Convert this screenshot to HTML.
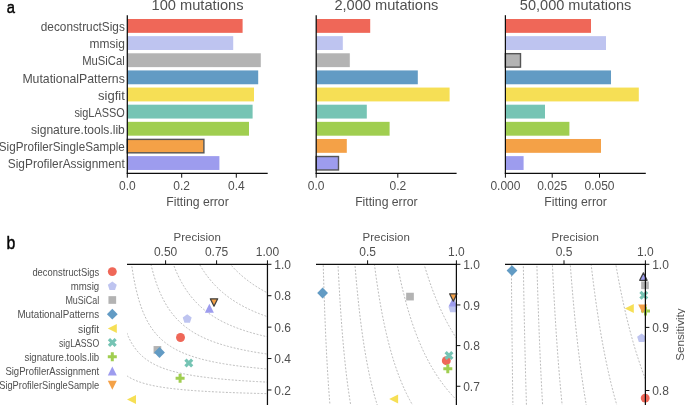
<!DOCTYPE html>
<html><head><meta charset="utf-8"><style>html,body{margin:0;padding:0;background:#fff;width:685px;height:405px;overflow:hidden}text{font-family:"Liberation Sans",sans-serif} svg{transform:translateZ(0) rotate(0.001deg)}</style></head>
<body><svg width="685" height="405" viewBox="0 0 685 405" style="display:block"><text x="0.00" y="0.00" font-size="16.8" fill="#000" stroke="#000" stroke-width="0.45" transform="translate(6.7,12.9) scale(0.88,1)">a</text>
<text x="0.00" y="0.00" font-size="18" fill="#000" stroke="#000" stroke-width="0.45" transform="translate(6.4,248.5) scale(0.88,1)">b</text>
<rect x="127.30" y="19.00" width="115.30" height="13.85" fill="#ef6758"/>
<rect x="127.30" y="36.14" width="105.90" height="13.85" fill="#bec4f0"/>
<rect x="127.30" y="53.28" width="133.50" height="13.85" fill="#b3b3b3"/>
<rect x="127.30" y="70.42" width="130.90" height="13.85" fill="#629bc4"/>
<rect x="127.30" y="87.56" width="126.70" height="13.85" fill="#f6df55"/>
<rect x="127.30" y="104.70" width="125.30" height="13.85" fill="#76c4b4"/>
<rect x="127.30" y="121.84" width="121.70" height="13.85" fill="#a0ce50"/>
<rect x="127.30" y="139.38" width="76.60" height="13.45" fill="#f4a147" stroke="#555555" stroke-width="1.4"/>
<rect x="127.30" y="156.12" width="92.10" height="13.85" fill="#9d9cee"/>
<line x1="127.30" y1="15.20" x2="127.30" y2="173.85" stroke="#0d0d0d" stroke-width="1.25"/>
<line x1="126.75" y1="173.30" x2="267.70" y2="173.30" stroke="#0d0d0d" stroke-width="1.25"/>
<line x1="127.30" y1="173.30" x2="127.30" y2="177.70" stroke="#0d0d0d" stroke-width="1.0"/>
<text x="127.30" y="190.20" font-size="12" fill="#4f4f4f" text-anchor="middle">0.0</text>
<line x1="181.70" y1="173.30" x2="181.70" y2="177.70" stroke="#0d0d0d" stroke-width="1.0"/>
<text x="181.70" y="190.20" font-size="12" fill="#4f4f4f" text-anchor="middle">0.2</text>
<line x1="236.30" y1="173.30" x2="236.30" y2="177.70" stroke="#0d0d0d" stroke-width="1.0"/>
<text x="236.30" y="190.20" font-size="12" fill="#4f4f4f" text-anchor="middle">0.4</text>
<text x="197.50" y="9.90" font-size="14.5" fill="#4f4f4f" text-anchor="middle" textLength="92" lengthAdjust="spacingAndGlyphs">100 mutations</text>
<text x="197.50" y="206.00" font-size="12.3" fill="#4f4f4f" text-anchor="middle" textLength="62.5" lengthAdjust="spacingAndGlyphs">Fitting error</text>
<rect x="316.20" y="19.00" width="54.00" height="13.85" fill="#ef6758"/>
<rect x="316.20" y="36.14" width="26.60" height="13.85" fill="#bec4f0"/>
<rect x="316.20" y="53.28" width="33.60" height="13.85" fill="#b3b3b3"/>
<rect x="316.20" y="70.42" width="101.60" height="13.85" fill="#629bc4"/>
<rect x="316.20" y="87.56" width="133.40" height="13.85" fill="#f6df55"/>
<rect x="316.20" y="104.70" width="50.60" height="13.85" fill="#76c4b4"/>
<rect x="316.20" y="121.84" width="73.40" height="13.85" fill="#a0ce50"/>
<rect x="316.20" y="138.98" width="30.60" height="13.85" fill="#f4a147"/>
<rect x="316.20" y="156.52" width="22.30" height="13.45" fill="#9d9cee" stroke="#555555" stroke-width="1.4"/>
<line x1="316.20" y1="15.20" x2="316.20" y2="173.85" stroke="#0d0d0d" stroke-width="1.25"/>
<line x1="315.65" y1="173.30" x2="456.60" y2="173.30" stroke="#0d0d0d" stroke-width="1.25"/>
<line x1="316.20" y1="173.30" x2="316.20" y2="177.70" stroke="#0d0d0d" stroke-width="1.0"/>
<text x="316.20" y="190.20" font-size="12" fill="#4f4f4f" text-anchor="middle">0.0</text>
<line x1="397.80" y1="173.30" x2="397.80" y2="177.70" stroke="#0d0d0d" stroke-width="1.0"/>
<text x="397.80" y="190.20" font-size="12" fill="#4f4f4f" text-anchor="middle">0.2</text>
<text x="386.40" y="9.90" font-size="14.5" fill="#4f4f4f" text-anchor="middle" textLength="104" lengthAdjust="spacingAndGlyphs">2,000 mutations</text>
<text x="386.40" y="206.00" font-size="12.3" fill="#4f4f4f" text-anchor="middle" textLength="62.5" lengthAdjust="spacingAndGlyphs">Fitting error</text>
<rect x="505.40" y="19.00" width="85.60" height="13.85" fill="#ef6758"/>
<rect x="505.40" y="36.14" width="100.60" height="13.85" fill="#bec4f0"/>
<rect x="505.40" y="53.68" width="15.10" height="13.45" fill="#b3b3b3" stroke="#555555" stroke-width="1.4"/>
<rect x="505.40" y="70.42" width="105.60" height="13.85" fill="#629bc4"/>
<rect x="505.40" y="87.56" width="133.40" height="13.85" fill="#f6df55"/>
<rect x="505.40" y="104.70" width="39.60" height="13.85" fill="#76c4b4"/>
<rect x="505.40" y="121.84" width="64.00" height="13.85" fill="#a0ce50"/>
<rect x="505.40" y="138.98" width="95.60" height="13.85" fill="#f4a147"/>
<rect x="505.40" y="156.12" width="18.20" height="13.85" fill="#9d9cee"/>
<line x1="505.40" y1="15.20" x2="505.40" y2="173.85" stroke="#0d0d0d" stroke-width="1.25"/>
<line x1="504.85" y1="173.30" x2="645.80" y2="173.30" stroke="#0d0d0d" stroke-width="1.25"/>
<line x1="505.40" y1="173.30" x2="505.40" y2="177.70" stroke="#0d0d0d" stroke-width="1.0"/>
<text x="505.40" y="190.20" font-size="12" fill="#4f4f4f" text-anchor="middle">0.000</text>
<line x1="552.20" y1="173.30" x2="552.20" y2="177.70" stroke="#0d0d0d" stroke-width="1.0"/>
<text x="552.20" y="190.20" font-size="12" fill="#4f4f4f" text-anchor="middle">0.025</text>
<line x1="599.50" y1="173.30" x2="599.50" y2="177.70" stroke="#0d0d0d" stroke-width="1.0"/>
<text x="599.50" y="190.20" font-size="12" fill="#4f4f4f" text-anchor="middle">0.050</text>
<text x="575.60" y="9.90" font-size="14.5" fill="#4f4f4f" text-anchor="middle" textLength="111.5" lengthAdjust="spacingAndGlyphs">50,000 mutations</text>
<text x="575.60" y="206.00" font-size="12.3" fill="#4f4f4f" text-anchor="middle" textLength="62.5" lengthAdjust="spacingAndGlyphs">Fitting error</text>
<text x="124.80" y="31.12" font-size="12.2" fill="#4f4f4f" text-anchor="end" textLength="84" lengthAdjust="spacingAndGlyphs">deconstructSigs</text>
<text x="124.80" y="48.27" font-size="12.2" fill="#4f4f4f" text-anchor="end" textLength="35.2" lengthAdjust="spacingAndGlyphs">mmsig</text>
<text x="124.80" y="65.41" font-size="12.2" fill="#4f4f4f" text-anchor="end" textLength="42.6" lengthAdjust="spacingAndGlyphs">MuSiCal</text>
<text x="124.80" y="82.55" font-size="12.2" fill="#4f4f4f" text-anchor="end" textLength="102.4" lengthAdjust="spacingAndGlyphs">MutationalPatterns</text>
<text x="124.80" y="99.69" font-size="12.2" fill="#4f4f4f" text-anchor="end" textLength="26.8" lengthAdjust="spacingAndGlyphs">sigfit</text>
<text x="124.80" y="116.83" font-size="12.2" fill="#4f4f4f" text-anchor="end" textLength="50.4" lengthAdjust="spacingAndGlyphs">sigLASSO</text>
<text x="124.80" y="133.97" font-size="12.2" fill="#4f4f4f" text-anchor="end" textLength="93.8" lengthAdjust="spacingAndGlyphs">signature.tools.lib</text>
<text x="124.80" y="151.11" font-size="12.2" fill="#4f4f4f" text-anchor="end" textLength="126" lengthAdjust="spacingAndGlyphs">SigProfilerSingleSample</text>
<text x="124.80" y="168.25" font-size="12.2" fill="#4f4f4f" text-anchor="end" textLength="117" lengthAdjust="spacingAndGlyphs">SigProfilerAssignment</text>
<circle cx="112.30" cy="271.60" r="4.46" fill="#ef6758"/>
<text x="99.20" y="275.70" font-size="10.1" fill="#4f4f4f" text-anchor="end" textLength="66.8" lengthAdjust="spacingAndGlyphs">deconstructSigs</text>
<polygon points="112.30,281.45 116.77,284.70 115.06,289.95 109.54,289.95 107.83,284.70" fill="#bec4f0"/>
<text x="99.20" y="289.90" font-size="10.1" fill="#4f4f4f" text-anchor="end" textLength="28.4" lengthAdjust="spacingAndGlyphs">mmsig</text>
<polygon points="108.45,296.15 116.15,296.15 116.15,303.85 108.45,303.85" fill="#b3b3b3"/>
<text x="99.20" y="304.10" font-size="10.1" fill="#4f4f4f" text-anchor="end" textLength="33.8" lengthAdjust="spacingAndGlyphs">MuSiCal</text>
<polygon points="112.30,308.80 117.70,314.20 112.30,319.60 106.90,314.20" fill="#629bc4"/>
<text x="99.20" y="318.30" font-size="10.1" fill="#4f4f4f" text-anchor="end" textLength="81.8" lengthAdjust="spacingAndGlyphs">MutationalPatterns</text>
<polygon points="107.80,328.40 116.80,323.90 116.80,332.90" fill="#f6df55"/>
<text x="99.20" y="332.50" font-size="10.1" fill="#4f4f4f" text-anchor="end" textLength="21.2" lengthAdjust="spacingAndGlyphs">sigfit</text>
<polygon points="110.05,338.10 112.30,340.35 114.55,338.10 116.80,340.35 114.55,342.60 116.80,344.85 114.55,347.10 112.30,344.85 110.05,347.10 107.80,344.85 110.05,342.60 107.80,340.35" fill="#76c4b4"/>
<text x="99.20" y="346.70" font-size="10.1" fill="#4f4f4f" text-anchor="end" textLength="40.2" lengthAdjust="spacingAndGlyphs">sigLASSO</text>
<polygon points="110.80,352.30 113.80,352.30 113.80,355.30 116.80,355.30 116.80,358.30 113.80,358.30 113.80,361.30 110.80,361.30 110.80,358.30 107.80,358.30 107.80,355.30 110.80,355.30" fill="#a0ce50"/>
<text x="99.20" y="360.90" font-size="10.1" fill="#4f4f4f" text-anchor="end" textLength="74.8" lengthAdjust="spacingAndGlyphs">signature.tools.lib</text>
<polygon points="112.30,366.50 116.80,375.50 107.80,375.50" fill="#9d9cee"/>
<text x="99.20" y="375.10" font-size="10.1" fill="#4f4f4f" text-anchor="end" textLength="93.8" lengthAdjust="spacingAndGlyphs">SigProfilerAssignment</text>
<polygon points="112.30,389.70 116.80,380.70 107.80,380.70" fill="#f4a147"/>
<text x="99.20" y="389.30" font-size="10.1" fill="#4f4f4f" text-anchor="end" textLength="100" lengthAdjust="spacingAndGlyphs">SigProfilerSingleSample</text>
<clipPath id="c0"><rect x="127.0" y="264.3" width="140.45" height="155.7"/></clipPath>
<g clip-path="url(#c0)" fill="none" stroke="#aaaaaa" stroke-width="0.8" stroke-dasharray="1.9 1.6">
<path d="M98.78,242.56 L99.93,273.50 L101.09,294.16 L102.24,308.94 L103.40,320.03 L104.55,328.65 L105.71,335.56 L106.86,341.21 L108.02,345.92 L109.17,349.91 L110.33,353.33 L111.48,356.29 L112.64,358.89 L113.80,361.18 L114.95,363.21 L116.11,365.03 L117.26,366.67 L118.42,368.15 L119.57,369.50 L120.73,370.73 L121.88,371.86 L123.04,372.90 L124.19,373.86 L125.35,374.74 L126.50,375.57 L127.66,376.34 L128.81,377.05 L129.97,377.72 L131.12,378.35 L132.28,378.94 L133.44,379.50 L134.59,380.02 L135.75,380.51 L136.90,380.98 L138.06,381.43 L139.21,381.85 L140.37,382.25 L141.52,382.63 L142.68,382.99 L143.83,383.33 L144.99,383.66 L146.14,383.98 L147.30,384.28 L148.45,384.57 L149.61,384.84 L150.76,385.11 L151.92,385.36 L153.08,385.61 L154.23,385.84 L155.39,386.07 L156.54,386.29 L157.70,386.50 L158.85,386.70 L160.01,386.89 L161.16,387.08 L162.32,387.26 L163.47,387.44 L164.63,387.61 L165.78,387.78 L166.94,387.94 L168.09,388.09 L169.25,388.24 L170.41,388.39 L171.56,388.53 L172.72,388.66 L173.87,388.80 L175.03,388.93 L176.18,389.05 L177.34,389.17 L178.49,389.29 L179.65,389.41 L180.80,389.52 L181.96,389.63 L183.11,389.73 L184.27,389.84 L185.42,389.94 L186.58,390.04 L187.73,390.13 L188.89,390.23 L190.05,390.32 L191.20,390.41 L192.36,390.50 L193.51,390.58 L194.67,390.67 L195.82,390.75 L196.98,390.83 L198.13,390.90 L199.29,390.98 L200.44,391.06 L201.60,391.13 L202.75,391.20 L203.91,391.27 L205.06,391.34 L206.22,391.40 L207.37,391.47 L208.53,391.53 L209.69,391.60 L210.84,391.66 L212.00,391.72 L213.15,391.78 L214.31,391.84 L215.46,391.89 L216.62,391.95 L217.77,392.01 L218.93,392.06 L220.08,392.11 L221.24,392.16 L222.39,392.22 L223.55,392.27 L224.70,392.32 L225.86,392.36 L227.01,392.41 L228.17,392.46 L229.33,392.50 L230.48,392.55 L231.64,392.59 L232.79,392.64 L233.95,392.68 L235.10,392.72 L236.26,392.76 L237.41,392.80 L238.57,392.84 L239.72,392.88 L240.88,392.92 L242.03,392.96 L243.19,393.00 L244.34,393.04 L245.50,393.07 L246.65,393.11 L247.81,393.14 L248.97,393.18 L250.12,393.21 L251.28,393.25 L252.43,393.28 L253.59,393.31 L254.74,393.35 L255.90,393.38 L257.05,393.41 L258.21,393.44 L259.36,393.47 L260.52,393.50 L261.67,393.53 L262.83,393.56 L263.98,393.59 L265.14,393.62 L266.29,393.65 L267.45,393.68"/>
<path d="M113.05,243.02 L114.14,259.32 L115.22,272.36 L116.31,283.04 L117.40,291.93 L118.49,299.46 L119.57,305.92 L120.66,311.52 L121.75,316.42 L122.84,320.74 L123.92,324.58 L125.01,328.02 L126.10,331.12 L127.18,333.92 L128.27,336.46 L129.36,338.79 L130.45,340.92 L131.53,342.88 L132.62,344.69 L133.71,346.37 L134.80,347.92 L135.88,349.37 L136.97,350.72 L138.06,351.99 L139.14,353.18 L140.23,354.29 L141.32,355.34 L142.41,356.33 L143.49,357.26 L144.58,358.15 L145.67,358.98 L146.76,359.78 L147.84,360.53 L148.93,361.25 L150.02,361.94 L151.11,362.59 L152.19,363.21 L153.28,363.80 L154.37,364.37 L155.45,364.92 L156.54,365.44 L157.63,365.94 L158.72,366.42 L159.80,366.88 L160.89,367.33 L161.98,367.75 L163.07,368.17 L164.15,368.56 L165.24,368.94 L166.33,369.31 L167.42,369.67 L168.50,370.01 L169.59,370.35 L170.68,370.67 L171.76,370.98 L172.85,371.28 L173.94,371.57 L175.03,371.86 L176.11,372.13 L177.20,372.40 L178.29,372.66 L179.38,372.91 L180.46,373.15 L181.55,373.39 L182.64,373.62 L183.73,373.84 L184.81,374.06 L185.90,374.27 L186.99,374.48 L188.07,374.68 L189.16,374.88 L190.25,375.07 L191.34,375.25 L192.42,375.44 L193.51,375.61 L194.60,375.79 L195.69,375.95 L196.77,376.12 L197.86,376.28 L198.95,376.44 L200.04,376.59 L201.12,376.74 L202.21,376.89 L203.30,377.03 L204.38,377.17 L205.47,377.31 L206.56,377.45 L207.65,377.58 L208.73,377.71 L209.82,377.83 L210.91,377.96 L212.00,378.08 L213.08,378.20 L214.17,378.31 L215.26,378.43 L216.35,378.54 L217.43,378.65 L218.52,378.76 L219.61,378.87 L220.69,378.97 L221.78,379.07 L222.87,379.17 L223.96,379.27 L225.04,379.37 L226.13,379.46 L227.22,379.55 L228.31,379.64 L229.39,379.73 L230.48,379.82 L231.57,379.91 L232.66,380.00 L233.74,380.08 L234.83,380.16 L235.92,380.24 L237.00,380.32 L238.09,380.40 L239.18,380.48 L240.27,380.55 L241.35,380.63 L242.44,380.70 L243.53,380.78 L244.62,380.85 L245.70,380.92 L246.79,380.99 L247.88,381.05 L248.97,381.12 L250.05,381.19 L251.14,381.25 L252.23,381.32 L253.31,381.38 L254.40,381.44 L255.49,381.50 L256.58,381.56 L257.66,381.62 L258.75,381.68 L259.84,381.74 L260.93,381.80 L262.01,381.85 L263.10,381.91 L264.19,381.96 L265.28,382.02 L266.36,382.07 L267.45,382.12"/>
<path d="M128.82,242.04 L129.84,251.37 L130.86,259.53 L131.87,266.73 L132.89,273.13 L133.91,278.86 L134.93,284.02 L135.95,288.69 L136.97,292.93 L137.99,296.81 L139.01,300.36 L140.03,303.63 L141.05,306.64 L142.07,309.44 L143.09,312.03 L144.11,314.45 L145.13,316.70 L146.15,318.81 L147.17,320.79 L148.18,322.65 L149.20,324.39 L150.22,326.04 L151.24,327.60 L152.26,329.07 L153.28,330.47 L154.30,331.79 L155.32,333.05 L156.34,334.25 L157.36,335.39 L158.38,336.47 L159.40,337.51 L160.42,338.50 L161.44,339.45 L162.46,340.36 L163.47,341.23 L164.49,342.06 L165.51,342.86 L166.53,343.63 L167.55,344.37 L168.57,345.08 L169.59,345.77 L170.61,346.43 L171.63,347.07 L172.65,347.68 L173.67,348.27 L174.69,348.85 L175.71,349.40 L176.73,349.94 L177.75,350.46 L178.77,350.96 L179.78,351.45 L180.80,351.92 L181.82,352.38 L182.84,352.82 L183.86,353.25 L184.88,353.67 L185.90,354.08 L186.92,354.47 L187.94,354.85 L188.96,355.23 L189.98,355.59 L191.00,355.95 L192.02,356.29 L193.04,356.62 L194.06,356.95 L195.08,357.27 L196.09,357.58 L197.11,357.88 L198.13,358.18 L199.15,358.47 L200.17,358.75 L201.19,359.02 L202.21,359.29 L203.23,359.56 L204.25,359.81 L205.27,360.06 L206.29,360.31 L207.31,360.55 L208.33,360.78 L209.35,361.01 L210.37,361.24 L211.38,361.46 L212.40,361.67 L213.42,361.88 L214.44,362.09 L215.46,362.29 L216.48,362.49 L217.50,362.68 L218.52,362.87 L219.54,363.06 L220.56,363.24 L221.58,363.42 L222.60,363.60 L223.62,363.77 L224.64,363.94 L225.66,364.11 L226.68,364.27 L227.69,364.43 L228.71,364.59 L229.73,364.75 L230.75,364.90 L231.77,365.05 L232.79,365.20 L233.81,365.34 L234.83,365.48 L235.85,365.62 L236.87,365.76 L237.89,365.90 L238.91,366.03 L239.93,366.16 L240.95,366.29 L241.97,366.42 L242.99,366.54 L244.00,366.66 L245.02,366.78 L246.04,366.90 L247.06,367.02 L248.08,367.13 L249.10,367.25 L250.12,367.36 L251.14,367.47 L252.16,367.58 L253.18,367.69 L254.20,367.79 L255.22,367.90 L256.24,368.00 L257.26,368.10 L258.28,368.20 L259.30,368.30 L260.31,368.39 L261.33,368.49 L262.35,368.58 L263.37,368.67 L264.39,368.77 L265.41,368.86 L266.43,368.95 L267.45,369.03"/>
<path d="M145.67,236.67 L146.62,242.64 L147.57,248.12 L148.53,253.17 L149.48,257.82 L150.43,262.13 L151.38,266.13 L152.33,269.86 L153.28,273.33 L154.23,276.59 L155.19,279.64 L156.14,282.50 L157.09,285.20 L158.04,287.75 L158.99,290.15 L159.94,292.42 L160.89,294.57 L161.84,296.61 L162.80,298.56 L163.75,300.40 L164.70,302.16 L165.65,303.83 L166.60,305.43 L167.55,306.96 L168.50,308.43 L169.46,309.83 L170.41,311.17 L171.36,312.46 L172.31,313.69 L173.26,314.88 L174.21,316.02 L175.16,317.12 L176.12,318.18 L177.07,319.20 L178.02,320.18 L178.97,321.13 L179.92,322.04 L180.87,322.93 L181.82,323.78 L182.78,324.61 L183.73,325.41 L184.68,326.19 L185.63,326.94 L186.58,327.67 L187.53,328.37 L188.48,329.06 L189.44,329.72 L190.39,330.37 L191.34,330.99 L192.29,331.60 L193.24,332.20 L194.19,332.77 L195.14,333.33 L196.10,333.88 L197.05,334.41 L198.00,334.93 L198.95,335.43 L199.90,335.92 L200.85,336.40 L201.80,336.87 L202.75,337.33 L203.71,337.77 L204.66,338.21 L205.61,338.63 L206.56,339.04 L207.51,339.45 L208.46,339.84 L209.41,340.23 L210.37,340.61 L211.32,340.98 L212.27,341.34 L213.22,341.69 L214.17,342.04 L215.12,342.38 L216.07,342.71 L217.03,343.04 L217.98,343.36 L218.93,343.67 L219.88,343.97 L220.83,344.27 L221.78,344.57 L222.73,344.86 L223.69,345.14 L224.64,345.42 L225.59,345.69 L226.54,345.96 L227.49,346.22 L228.44,346.48 L229.39,346.73 L230.35,346.98 L231.30,347.22 L232.25,347.46 L233.20,347.69 L234.15,347.93 L235.10,348.15 L236.05,348.38 L237.01,348.59 L237.96,348.81 L238.91,349.02 L239.86,349.23 L240.81,349.44 L241.76,349.64 L242.71,349.84 L243.67,350.03 L244.62,350.22 L245.57,350.41 L246.52,350.60 L247.47,350.78 L248.42,350.96 L249.37,351.14 L250.32,351.32 L251.28,351.49 L252.23,351.66 L253.18,351.83 L254.13,351.99 L255.08,352.16 L256.03,352.32 L256.98,352.47 L257.94,352.63 L258.89,352.78 L259.84,352.93 L260.79,353.08 L261.74,353.23 L262.69,353.38 L263.64,353.52 L264.60,353.66 L265.55,353.80 L266.50,353.94 L267.45,354.07"/>
<path d="M164.97,235.86 L165.86,239.59 L166.74,243.11 L167.62,246.44 L168.51,249.60 L169.39,252.59 L170.27,255.43 L171.16,258.14 L172.04,260.72 L172.92,263.17 L173.81,265.52 L174.69,267.76 L175.57,269.90 L176.46,271.96 L177.34,273.92 L178.22,275.81 L179.11,277.62 L179.99,279.36 L180.87,281.03 L181.76,282.64 L182.64,284.19 L183.52,285.69 L184.41,287.13 L185.29,288.52 L186.17,289.86 L187.06,291.16 L187.94,292.41 L188.82,293.63 L189.71,294.80 L190.59,295.94 L191.47,297.04 L192.36,298.10 L193.24,299.14 L194.13,300.14 L195.01,301.12 L195.89,302.06 L196.78,302.98 L197.66,303.88 L198.54,304.74 L199.43,305.59 L200.31,306.41 L201.19,307.21 L202.08,307.99 L202.96,308.75 L203.84,309.49 L204.73,310.21 L205.61,310.91 L206.49,311.59 L207.38,312.26 L208.26,312.91 L209.14,313.55 L210.03,314.17 L210.91,314.78 L211.79,315.37 L212.68,315.95 L213.56,316.52 L214.44,317.07 L215.33,317.62 L216.21,318.15 L217.09,318.67 L217.98,319.17 L218.86,319.67 L219.74,320.16 L220.63,320.63 L221.51,321.10 L222.40,321.56 L223.28,322.01 L224.16,322.45 L225.05,322.88 L225.93,323.30 L226.81,323.72 L227.70,324.12 L228.58,324.52 L229.46,324.91 L230.35,325.30 L231.23,325.67 L232.11,326.04 L233.00,326.41 L233.88,326.76 L234.76,327.12 L235.65,327.46 L236.53,327.80 L237.41,328.13 L238.30,328.46 L239.18,328.78 L240.06,329.10 L240.95,329.41 L241.83,329.71 L242.71,330.01 L243.60,330.31 L244.48,330.60 L245.36,330.89 L246.25,331.17 L247.13,331.45 L248.01,331.72 L248.90,331.99 L249.78,332.25 L250.66,332.51 L251.55,332.77 L252.43,333.02 L253.32,333.27 L254.20,333.52 L255.08,333.76 L255.97,334.00 L256.85,334.23 L257.73,334.47 L258.62,334.69 L259.50,334.92 L260.38,335.14 L261.27,335.36 L262.15,335.57 L263.03,335.79 L263.92,336.00 L264.80,336.20 L265.68,336.41 L266.57,336.61 L267.45,336.81"/>
<path d="M185.90,232.92 L186.72,235.38 L187.53,237.75 L188.35,240.03 L189.17,242.22 L189.98,244.34 L190.80,246.38 L191.61,248.34 L192.43,250.24 L193.24,252.08 L194.06,253.85 L194.87,255.57 L195.69,257.23 L196.50,258.84 L197.32,260.39 L198.14,261.90 L198.95,263.37 L199.77,264.79 L200.58,266.17 L201.40,267.51 L202.21,268.81 L203.03,270.07 L203.84,271.30 L204.66,272.49 L205.47,273.66 L206.29,274.79 L207.11,275.89 L207.92,276.96 L208.74,278.01 L209.55,279.03 L210.37,280.02 L211.18,280.99 L212.00,281.94 L212.81,282.86 L213.63,283.76 L214.44,284.64 L215.26,285.50 L216.08,286.34 L216.89,287.16 L217.71,287.96 L218.52,288.75 L219.34,289.51 L220.15,290.26 L220.97,291.00 L221.78,291.72 L222.60,292.42 L223.41,293.11 L224.23,293.78 L225.05,294.44 L225.86,295.09 L226.68,295.73 L227.49,296.35 L228.31,296.96 L229.12,297.55 L229.94,298.14 L230.75,298.72 L231.57,299.28 L232.39,299.83 L233.20,300.38 L234.02,300.91 L234.83,301.44 L235.65,301.95 L236.46,302.46 L237.28,302.95 L238.09,303.44 L238.91,303.92 L239.72,304.39 L240.54,304.85 L241.36,305.31 L242.17,305.76 L242.99,306.20 L243.80,306.63 L244.62,307.05 L245.43,307.47 L246.25,307.88 L247.06,308.29 L247.88,308.69 L248.69,309.08 L249.51,309.47 L250.33,309.85 L251.14,310.22 L251.96,310.59 L252.77,310.96 L253.59,311.31 L254.40,311.67 L255.22,312.01 L256.03,312.35 L256.85,312.69 L257.66,313.02 L258.48,313.35 L259.30,313.67 L260.11,313.99 L260.93,314.31 L261.74,314.62 L262.56,314.92 L263.37,315.22 L264.19,315.52 L265.00,315.81 L265.82,316.10 L266.63,316.39 L267.45,316.67"/>
<path d="M210.64,233.48 L211.39,235.04 L212.14,236.56 L212.88,238.05 L213.63,239.49 L214.38,240.90 L215.13,242.27 L215.87,243.61 L216.62,244.91 L217.37,246.19 L218.12,247.43 L218.86,248.65 L219.61,249.83 L220.36,250.99 L221.11,252.12 L221.85,253.23 L222.60,254.31 L223.35,255.37 L224.10,256.41 L224.84,257.42 L225.59,258.41 L226.34,259.39 L227.09,260.34 L227.83,261.27 L228.58,262.18 L229.33,263.07 L230.08,263.95 L230.82,264.81 L231.57,265.65 L232.32,266.48 L233.07,267.29 L233.81,268.08 L234.56,268.86 L235.31,269.62 L236.06,270.38 L236.80,271.11 L237.55,271.84 L238.30,272.55 L239.05,273.24 L239.79,273.93 L240.54,274.60 L241.29,275.26 L242.04,275.91 L242.78,276.55 L243.53,277.18 L244.28,277.80 L245.03,278.41 L245.77,279.00 L246.52,279.59 L247.27,280.17 L248.02,280.74 L248.76,281.30 L249.51,281.85 L250.26,282.39 L251.01,282.92 L251.75,283.45 L252.50,283.97 L253.25,284.48 L254.00,284.98 L254.74,285.47 L255.49,285.96 L256.24,286.44 L256.99,286.91 L257.73,287.38 L258.48,287.83 L259.23,288.29 L259.98,288.73 L260.72,289.17 L261.47,289.61 L262.22,290.03 L262.97,290.45 L263.71,290.87 L264.46,291.28 L265.21,291.68 L265.96,292.08 L266.70,292.48 L267.45,292.86"/>
</g>
<circle cx="180.50" cy="337.50" r="4.46" fill="#ef6758"/>
<polygon points="187.20,314.15 191.67,317.40 189.96,322.65 184.44,322.65 182.73,317.40" fill="#bec4f0"/>
<polygon points="153.55,346.05 161.25,346.05 161.25,353.75 153.55,353.75" fill="#b3b3b3"/>
<polygon points="159.50,347.10 164.90,352.50 159.50,357.90 154.10,352.50" fill="#629bc4"/>
<polygon points="127.00,399.50 136.00,395.00 136.00,404.00" fill="#f6df55"/>
<polygon points="186.55,358.50 188.80,360.75 191.05,358.50 193.30,360.75 191.05,363.00 193.30,365.25 191.05,367.50 188.80,365.25 186.55,367.50 184.30,365.25 186.55,363.00 184.30,360.75" fill="#76c4b4"/>
<polygon points="178.60,373.80 181.60,373.80 181.60,376.80 184.60,376.80 184.60,379.80 181.60,379.80 181.60,382.80 178.60,382.80 178.60,379.80 175.60,379.80 175.60,376.80 178.60,376.80" fill="#a0ce50"/>
<polygon points="209.40,303.80 213.90,312.80 204.90,312.80" fill="#9d9cee"/>
<polygon points="214.00,306.20 217.70,298.80 210.30,298.80" fill="#f4a147" stroke="#404040" stroke-width="1.25" stroke-linejoin="round"/>
<line x1="127.00" y1="264.30" x2="268.00" y2="264.30" stroke="#0d0d0d" stroke-width="1.25"/>
<line x1="267.45" y1="263.75" x2="267.45" y2="407.00" stroke="#0d0d0d" stroke-width="1.25"/>
<line x1="165.60" y1="264.30" x2="165.60" y2="260.30" stroke="#0d0d0d" stroke-width="1.0"/>
<text x="165.60" y="256.10" font-size="12" fill="#4f4f4f" text-anchor="middle">0.50</text>
<line x1="216.60" y1="264.30" x2="216.60" y2="260.30" stroke="#0d0d0d" stroke-width="1.0"/>
<text x="216.60" y="256.10" font-size="12" fill="#4f4f4f" text-anchor="middle">0.75</text>
<line x1="267.45" y1="264.30" x2="267.45" y2="260.30" stroke="#0d0d0d" stroke-width="1.0"/>
<text x="267.45" y="256.10" font-size="12" fill="#4f4f4f" text-anchor="middle">1.00</text>
<line x1="267.45" y1="264.30" x2="271.45" y2="264.30" stroke="#0d0d0d" stroke-width="1.0"/>
<text x="274.25" y="269.00" font-size="12" fill="#4f4f4f">1.0</text>
<line x1="267.45" y1="295.72" x2="271.45" y2="295.72" stroke="#0d0d0d" stroke-width="1.0"/>
<text x="274.25" y="300.42" font-size="12" fill="#4f4f4f">0.8</text>
<line x1="267.45" y1="327.14" x2="271.45" y2="327.14" stroke="#0d0d0d" stroke-width="1.0"/>
<text x="274.25" y="331.84" font-size="12" fill="#4f4f4f">0.6</text>
<line x1="267.45" y1="358.56" x2="271.45" y2="358.56" stroke="#0d0d0d" stroke-width="1.0"/>
<text x="274.25" y="363.26" font-size="12" fill="#4f4f4f">0.4</text>
<line x1="267.45" y1="389.98" x2="271.45" y2="389.98" stroke="#0d0d0d" stroke-width="1.0"/>
<text x="274.25" y="394.68" font-size="12" fill="#4f4f4f">0.2</text>
<text x="197.22" y="241.20" font-size="11.8" fill="#4f4f4f" text-anchor="middle" textLength="47.2" lengthAdjust="spacingAndGlyphs">Precision</text>
<clipPath id="c1"><rect x="316.0" y="264.3" width="140.39999999999998" height="155.7"/></clipPath>
<g clip-path="url(#c1)" fill="none" stroke="#aaaaaa" stroke-width="0.8" stroke-dasharray="1.9 1.6">
<path d="M309.48,208.04 L310.49,288.11 L311.50,341.58 L312.50,379.80 L313.51,408.49 L314.51,430.82 L315.52,448.69 L316.53,463.31 L317.53,475.50 L318.54,485.82 L319.55,494.67 L320.55,502.34 L321.56,509.05 L322.56,514.97 L323.57,520.23 L324.58,524.94 L325.58,529.18 L326.59,533.02 L327.60,536.51 L328.60,539.69 L329.61,542.61 L330.61,545.30 L331.62,547.78 L332.63,550.08 L333.63,552.21 L334.64,554.20 L335.65,556.05 L336.65,557.78 L337.66,559.41 L338.67,560.93 L339.67,562.37 L340.68,563.73 L341.68,565.01 L342.69,566.22 L343.70,567.36 L344.70,568.45 L345.71,569.49 L346.72,570.47 L347.72,571.41 L348.73,572.30 L349.73,573.15 L350.74,573.97 L351.75,574.75 L352.75,575.49 L353.76,576.21 L354.77,576.89 L355.77,577.55 L356.78,578.18 L357.78,578.79 L358.79,579.38 L359.80,579.94 L360.80,580.48 L361.81,581.01 L362.82,581.51 L363.82,582.00 L364.83,582.47 L365.83,582.93 L366.84,583.37 L367.85,583.80 L368.85,584.21 L369.86,584.61 L370.87,585.00 L371.87,585.37 L372.88,585.74 L373.88,586.09 L374.89,586.44 L375.90,586.77 L376.90,587.09 L377.91,587.41 L378.92,587.72 L379.92,588.02 L380.93,588.31 L381.94,588.59 L382.94,588.87 L383.95,589.13 L384.95,589.40 L385.96,589.65 L386.97,589.90 L387.97,590.14 L388.98,590.38 L389.99,590.61 L390.99,590.84 L392.00,591.06 L393.00,591.27 L394.01,591.49 L395.02,591.69 L396.02,591.89 L397.03,592.09 L398.04,592.28 L399.04,592.47 L400.05,592.66 L401.05,592.84 L402.06,593.01 L403.07,593.19 L404.07,593.36 L405.08,593.52 L406.09,593.69 L407.09,593.85 L408.10,594.00 L409.10,594.16 L410.11,594.31 L411.12,594.45 L412.12,594.60 L413.13,594.74 L414.14,594.88 L415.14,595.02 L416.15,595.15 L417.16,595.28 L418.16,595.41 L419.17,595.54 L420.17,595.67 L421.18,595.79 L422.19,595.91 L423.19,596.03 L424.20,596.15 L425.21,596.26 L426.21,596.38 L427.22,596.49 L428.22,596.60 L429.23,596.70 L430.24,596.81 L431.24,596.91 L432.25,597.02 L433.26,597.12 L434.26,597.22 L435.27,597.31 L436.27,597.41 L437.28,597.50 L438.29,597.60 L439.29,597.69 L440.30,597.78 L441.31,597.87 L442.31,597.96 L443.32,598.04 L444.32,598.13 L445.33,598.21 L446.34,598.30 L447.34,598.38 L448.35,598.46 L449.36,598.54 L450.36,598.62 L451.37,598.69 L452.37,598.77 L453.38,598.85 L454.39,598.92 L455.39,598.99 L456.40,599.06"/>
<path d="M321.91,209.25 L322.86,251.41 L323.81,285.16 L324.76,312.78 L325.70,335.80 L326.65,355.29 L327.60,372.00 L328.54,386.48 L329.49,399.15 L330.44,410.34 L331.39,420.28 L332.33,429.18 L333.28,437.19 L334.23,444.43 L335.17,451.02 L336.12,457.04 L337.07,462.55 L338.01,467.63 L338.96,472.31 L339.91,476.65 L340.86,480.68 L341.80,484.43 L342.75,487.93 L343.70,491.20 L344.64,494.27 L345.59,497.15 L346.54,499.87 L347.49,502.43 L348.43,504.85 L349.38,507.13 L350.33,509.30 L351.27,511.35 L352.22,513.31 L353.17,515.16 L354.12,516.93 L355.06,518.62 L356.01,520.23 L356.96,521.77 L357.90,523.24 L358.85,524.65 L359.80,526.00 L360.74,527.30 L361.69,528.54 L362.64,529.74 L363.59,530.88 L364.53,531.99 L365.48,533.05 L366.43,534.08 L367.37,535.07 L368.32,536.02 L369.27,536.95 L370.22,537.84 L371.16,538.70 L372.11,539.53 L373.06,540.34 L374.00,541.12 L374.95,541.87 L375.90,542.60 L376.85,543.31 L377.79,544.00 L378.74,544.67 L379.69,545.32 L380.63,545.95 L381.58,546.57 L382.53,547.16 L383.47,547.74 L384.42,548.31 L385.37,548.86 L386.32,549.39 L387.26,549.91 L388.21,550.42 L389.16,550.91 L390.10,551.39 L391.05,551.87 L392.00,552.32 L392.95,552.77 L393.89,553.21 L394.84,553.64 L395.79,554.05 L396.73,554.46 L397.68,554.86 L398.63,555.25 L399.58,555.63 L400.52,556.00 L401.47,556.36 L402.42,556.72 L403.36,557.07 L404.31,557.41 L405.26,557.74 L406.20,558.07 L407.15,558.39 L408.10,558.71 L409.05,559.01 L409.99,559.32 L410.94,559.61 L411.89,559.90 L412.83,560.19 L413.78,560.47 L414.73,560.74 L415.68,561.01 L416.62,561.27 L417.57,561.53 L418.52,561.79 L419.46,562.03 L420.41,562.28 L421.36,562.52 L422.31,562.76 L423.25,562.99 L424.20,563.22 L425.15,563.44 L426.09,563.66 L427.04,563.88 L427.99,564.09 L428.93,564.30 L429.88,564.51 L430.83,564.71 L431.78,564.91 L432.72,565.11 L433.67,565.30 L434.62,565.49 L435.56,565.68 L436.51,565.87 L437.46,566.05 L438.41,566.23 L439.35,566.40 L440.30,566.58 L441.25,566.75 L442.19,566.92 L443.14,567.08 L444.09,567.25 L445.04,567.41 L445.98,567.57 L446.93,567.72 L447.88,567.88 L448.82,568.03 L449.77,568.18 L450.72,568.33 L451.66,568.47 L452.61,568.62 L453.56,568.76 L454.51,568.90 L455.45,569.04 L456.40,569.17"/>
<path d="M335.65,206.70 L336.54,230.83 L337.42,251.95 L338.31,270.59 L339.20,287.16 L340.09,301.99 L340.98,315.33 L341.86,327.41 L342.75,338.39 L343.64,348.41 L344.53,357.60 L345.41,366.06 L346.30,373.87 L347.19,381.09 L348.08,387.81 L348.97,394.06 L349.85,399.89 L350.74,405.35 L351.63,410.46 L352.52,415.27 L353.41,419.79 L354.29,424.06 L355.18,428.09 L356.07,431.90 L356.96,435.51 L357.85,438.94 L358.73,442.19 L359.62,445.29 L360.51,448.23 L361.40,451.05 L362.28,453.73 L363.17,456.29 L364.06,458.75 L364.95,461.09 L365.84,463.35 L366.72,465.50 L367.61,467.58 L368.50,469.57 L369.39,471.48 L370.28,473.33 L371.16,475.10 L372.05,476.81 L372.94,478.46 L373.83,480.05 L374.71,481.59 L375.60,483.07 L376.49,484.50 L377.38,485.89 L378.27,487.23 L379.15,488.54 L380.04,489.79 L380.93,491.02 L381.82,492.20 L382.71,493.35 L383.59,494.46 L384.48,495.55 L385.37,496.60 L386.26,497.62 L387.15,498.61 L388.03,499.58 L388.92,500.52 L389.81,501.43 L390.70,502.33 L391.58,503.19 L392.47,504.04 L393.36,504.86 L394.25,505.67 L395.14,506.45 L396.02,507.22 L396.91,507.96 L397.80,508.69 L398.69,509.40 L399.58,510.10 L400.46,510.78 L401.35,511.44 L402.24,512.09 L403.13,512.72 L404.01,513.34 L404.90,513.95 L405.79,514.54 L406.68,515.12 L407.57,515.69 L408.45,516.25 L409.34,516.79 L410.23,517.33 L411.12,517.85 L412.01,518.37 L412.89,518.87 L413.78,519.36 L414.67,519.85 L415.56,520.32 L416.45,520.78 L417.33,521.24 L418.22,521.69 L419.11,522.13 L420.00,522.56 L420.88,522.98 L421.77,523.40 L422.66,523.81 L423.55,524.21 L424.44,524.60 L425.32,524.99 L426.21,525.37 L427.10,525.75 L427.99,526.12 L428.88,526.48 L429.76,526.83 L430.65,527.18 L431.54,527.53 L432.43,527.87 L433.32,528.20 L434.20,528.53 L435.09,528.85 L435.98,529.17 L436.87,529.48 L437.75,529.79 L438.64,530.09 L439.53,530.39 L440.42,530.68 L441.31,530.97 L442.19,531.26 L443.08,531.54 L443.97,531.81 L444.86,532.09 L445.75,532.35 L446.63,532.62 L447.52,532.88 L448.41,533.14 L449.30,533.39 L450.18,533.64 L451.07,533.89 L451.96,534.13 L452.85,534.37 L453.74,534.61 L454.62,534.84 L455.51,535.07 L456.40,535.30"/>
<path d="M350.33,192.80 L351.16,208.26 L351.99,222.44 L352.81,235.49 L353.64,247.53 L354.47,258.68 L355.30,269.04 L356.13,278.68 L356.96,287.68 L357.79,296.10 L358.62,303.99 L359.44,311.41 L360.27,318.38 L361.10,324.97 L361.93,331.18 L362.76,337.06 L363.59,342.63 L364.42,347.92 L365.25,352.94 L366.07,357.71 L366.90,362.26 L367.73,366.60 L368.56,370.74 L369.39,374.69 L370.22,378.48 L371.05,382.10 L371.87,385.57 L372.70,388.90 L373.53,392.10 L374.36,395.17 L375.19,398.13 L376.02,400.97 L376.85,403.71 L377.68,406.35 L378.50,408.89 L379.33,411.34 L380.16,413.71 L380.99,416.00 L381.82,418.22 L382.65,420.36 L383.48,422.43 L384.30,424.44 L385.13,426.38 L385.96,428.26 L386.79,430.09 L387.62,431.86 L388.45,433.58 L389.28,435.25 L390.11,436.87 L390.93,438.45 L391.76,439.98 L392.59,441.47 L393.42,442.92 L394.25,444.34 L395.08,445.71 L395.91,447.05 L396.73,448.36 L397.56,449.63 L398.39,450.87 L399.22,452.08 L400.05,453.26 L400.88,454.41 L401.71,455.53 L402.54,456.63 L403.36,457.70 L404.19,458.75 L405.02,459.77 L405.85,460.77 L406.68,461.75 L407.51,462.71 L408.34,463.64 L409.17,464.56 L409.99,465.46 L410.82,466.33 L411.65,467.19 L412.48,468.04 L413.31,468.86 L414.14,469.67 L414.97,470.46 L415.79,471.24 L416.62,472.00 L417.45,472.74 L418.28,473.47 L419.11,474.19 L419.94,474.90 L420.77,475.59 L421.60,476.26 L422.42,476.93 L423.25,477.58 L424.08,478.23 L424.91,478.86 L425.74,479.48 L426.57,480.08 L427.40,480.68 L428.22,481.27 L429.05,481.85 L429.88,482.41 L430.71,482.97 L431.54,483.52 L432.37,484.06 L433.20,484.59 L434.03,485.12 L434.85,485.63 L435.68,486.13 L436.51,486.63 L437.34,487.12 L438.17,487.60 L439.00,488.08 L439.83,488.55 L440.66,489.01 L441.48,489.46 L442.31,489.91 L443.14,490.35 L443.97,490.78 L444.80,491.21 L445.63,491.63 L446.46,492.04 L447.28,492.45 L448.11,492.85 L448.94,493.25 L449.77,493.64 L450.60,494.03 L451.43,494.41 L452.26,494.78 L453.09,495.15 L453.91,495.52 L454.74,495.88 L455.57,496.23 L456.40,496.59"/>
<path d="M367.14,190.72 L367.91,200.36 L368.68,209.47 L369.45,218.09 L370.22,226.26 L370.99,234.00 L371.76,241.36 L372.53,248.36 L373.30,255.03 L374.07,261.38 L374.83,267.45 L375.60,273.25 L376.37,278.80 L377.14,284.11 L377.91,289.20 L378.68,294.08 L379.45,298.77 L380.22,303.27 L380.99,307.60 L381.76,311.77 L382.53,315.78 L383.30,319.65 L384.07,323.37 L384.84,326.97 L385.61,330.45 L386.38,333.80 L387.15,337.05 L387.92,340.18 L388.69,343.22 L389.46,346.16 L390.22,349.01 L390.99,351.77 L391.76,354.45 L392.53,357.04 L393.30,359.56 L394.07,362.01 L394.84,364.39 L395.61,366.70 L396.38,368.95 L397.15,371.13 L397.92,373.26 L398.69,375.33 L399.46,377.34 L400.23,379.31 L401.00,381.22 L401.77,383.08 L402.54,384.90 L403.31,386.67 L404.08,388.40 L404.84,390.09 L405.61,391.74 L406.38,393.35 L407.15,394.92 L407.92,396.45 L408.69,397.95 L409.46,399.42 L410.23,400.86 L411.00,402.26 L411.77,403.63 L412.54,404.97 L413.31,406.29 L414.08,407.57 L414.85,408.83 L415.62,410.07 L416.39,411.27 L417.16,412.46 L417.93,413.62 L418.70,414.76 L419.46,415.87 L420.23,416.97 L421.00,418.04 L421.77,419.09 L422.54,420.12 L423.31,421.13 L424.08,422.13 L424.85,423.11 L425.62,424.06 L426.39,425.00 L427.16,425.93 L427.93,426.84 L428.70,427.73 L429.47,428.60 L430.24,429.47 L431.01,430.31 L431.78,431.14 L432.55,431.96 L433.32,432.77 L434.09,433.56 L434.85,434.34 L435.62,435.10 L436.39,435.86 L437.16,436.60 L437.93,437.33 L438.70,438.04 L439.47,438.75 L440.24,439.45 L441.01,440.13 L441.78,440.81 L442.55,441.47 L443.32,442.12 L444.09,442.77 L444.86,443.40 L445.63,444.03 L446.40,444.65 L447.17,445.25 L447.94,445.85 L448.71,446.44 L449.47,447.03 L450.24,447.60 L451.01,448.17 L451.78,448.72 L452.55,449.27 L453.32,449.82 L454.09,450.35 L454.86,450.88 L455.63,451.40 L456.40,451.92"/>
<path d="M385.37,183.11 L386.08,189.48 L386.79,195.61 L387.50,201.50 L388.21,207.18 L388.92,212.65 L389.63,217.92 L390.34,223.01 L391.05,227.93 L391.76,232.68 L392.47,237.27 L393.18,241.71 L393.90,246.00 L394.61,250.16 L395.32,254.19 L396.03,258.10 L396.74,261.89 L397.45,265.56 L398.16,269.13 L398.87,272.59 L399.58,275.96 L400.29,279.23 L401.00,282.41 L401.71,285.50 L402.42,288.51 L403.13,291.44 L403.84,294.29 L404.55,297.06 L405.26,299.77 L405.97,302.41 L406.68,304.98 L407.39,307.49 L408.10,309.93 L408.81,312.32 L409.52,314.65 L410.23,316.93 L410.94,319.15 L411.65,321.33 L412.36,323.45 L413.07,325.52 L413.78,327.55 L414.49,329.54 L415.20,331.48 L415.91,333.38 L416.62,335.24 L417.33,337.06 L418.04,338.84 L418.76,340.59 L419.47,342.30 L420.18,343.97 L420.89,345.61 L421.60,347.22 L422.31,348.80 L423.02,350.35 L423.73,351.87 L424.44,353.35 L425.15,354.81 L425.86,356.25 L426.57,357.65 L427.28,359.04 L427.99,360.39 L428.70,361.72 L429.41,363.03 L430.12,364.31 L430.83,365.58 L431.54,366.82 L432.25,368.03 L432.96,369.23 L433.67,370.41 L434.38,371.57 L435.09,372.71 L435.80,373.83 L436.51,374.93 L437.22,376.01 L437.93,377.08 L438.64,378.12 L439.35,379.16 L440.06,380.17 L440.77,381.17 L441.48,382.16 L442.19,383.13 L442.90,384.08 L443.61,385.02 L444.33,385.95 L445.04,386.86 L445.75,387.76 L446.46,388.64 L447.17,389.52 L447.88,390.38 L448.59,391.22 L449.30,392.06 L450.01,392.88 L450.72,393.69 L451.43,394.49 L452.14,395.28 L452.85,396.06 L453.56,396.83 L454.27,397.59 L454.98,398.34 L455.69,399.07 L456.40,399.80"/>
<path d="M406.92,184.55 L407.57,188.60 L408.22,192.53 L408.87,196.37 L409.52,200.10 L410.17,203.75 L410.82,207.30 L411.48,210.76 L412.13,214.14 L412.78,217.43 L413.43,220.65 L414.08,223.80 L414.73,226.87 L415.38,229.86 L416.03,232.80 L416.68,235.66 L417.34,238.46 L417.99,241.20 L418.64,243.88 L419.29,246.51 L419.94,249.07 L420.59,251.59 L421.24,254.05 L421.89,256.46 L422.54,258.82 L423.19,261.13 L423.85,263.40 L424.50,265.62 L425.15,267.80 L425.80,269.93 L426.45,272.03 L427.10,274.08 L427.75,276.10 L428.40,278.08 L429.05,280.02 L429.71,281.93 L430.36,283.80 L431.01,285.64 L431.66,287.44 L432.31,289.22 L432.96,290.96 L433.61,292.67 L434.26,294.35 L434.91,296.01 L435.57,297.63 L436.22,299.23 L436.87,300.80 L437.52,302.35 L438.17,303.87 L438.82,305.36 L439.47,306.83 L440.12,308.28 L440.77,309.71 L441.43,311.11 L442.08,312.49 L442.73,313.85 L443.38,315.19 L444.03,316.51 L444.68,317.80 L445.33,319.08 L445.98,320.34 L446.63,321.58 L447.28,322.81 L447.94,324.01 L448.59,325.20 L449.24,326.37 L449.89,327.52 L450.54,328.66 L451.19,329.78 L451.84,330.88 L452.49,331.97 L453.14,333.05 L453.80,334.11 L454.45,335.16 L455.10,336.19 L455.75,337.20 L456.40,338.21"/>
</g>
<circle cx="446.30" cy="360.70" r="4.46" fill="#ef6758"/>
<polygon points="453.00,303.65 457.47,306.90 455.76,312.15 450.24,312.15 448.53,306.90" fill="#bec4f0"/>
<polygon points="406.15,292.75 413.85,292.75 413.85,300.45 406.15,300.45" fill="#b3b3b3"/>
<polygon points="322.60,287.60 328.00,293.00 322.60,298.40 317.20,293.00" fill="#629bc4"/>
<polygon points="389.10,399.00 398.10,394.50 398.10,403.50" fill="#f6df55"/>
<polygon points="446.75,350.90 449.00,353.15 451.25,350.90 453.50,353.15 451.25,355.40 453.50,357.65 451.25,359.90 449.00,357.65 446.75,359.90 444.50,357.65 446.75,355.40 444.50,353.15" fill="#76c4b4"/>
<polygon points="446.30,364.20 449.30,364.20 449.30,367.20 452.30,367.20 452.30,370.20 449.30,370.20 449.30,373.20 446.30,373.20 446.30,370.20 443.30,370.20 443.30,367.20 446.30,367.20" fill="#a0ce50"/>
<polygon points="453.00,297.50 457.50,306.50 448.50,306.50" fill="#9d9cee"/>
<polygon points="453.30,301.20 457.00,293.80 449.60,293.80" fill="#f4a147" stroke="#404040" stroke-width="1.25" stroke-linejoin="round"/>
<line x1="316.00" y1="264.30" x2="456.95" y2="264.30" stroke="#0d0d0d" stroke-width="1.25"/>
<line x1="456.40" y1="263.75" x2="456.40" y2="407.00" stroke="#0d0d0d" stroke-width="1.25"/>
<line x1="367.60" y1="264.30" x2="367.60" y2="260.30" stroke="#0d0d0d" stroke-width="1.0"/>
<text x="367.60" y="256.10" font-size="12" fill="#4f4f4f" text-anchor="middle">0.5</text>
<line x1="456.40" y1="264.30" x2="456.40" y2="260.30" stroke="#0d0d0d" stroke-width="1.0"/>
<text x="456.40" y="256.10" font-size="12" fill="#4f4f4f" text-anchor="middle">1.0</text>
<line x1="456.40" y1="264.30" x2="460.40" y2="264.30" stroke="#0d0d0d" stroke-width="1.0"/>
<text x="463.20" y="269.00" font-size="12" fill="#4f4f4f">1.0</text>
<line x1="456.40" y1="304.95" x2="460.40" y2="304.95" stroke="#0d0d0d" stroke-width="1.0"/>
<text x="463.20" y="309.65" font-size="12" fill="#4f4f4f">0.9</text>
<line x1="456.40" y1="345.60" x2="460.40" y2="345.60" stroke="#0d0d0d" stroke-width="1.0"/>
<text x="463.20" y="350.30" font-size="12" fill="#4f4f4f">0.8</text>
<line x1="456.40" y1="386.25" x2="460.40" y2="386.25" stroke="#0d0d0d" stroke-width="1.0"/>
<text x="463.20" y="390.95" font-size="12" fill="#4f4f4f">0.7</text>
<text x="386.20" y="241.20" font-size="11.8" fill="#4f4f4f" text-anchor="middle" textLength="47.2" lengthAdjust="spacingAndGlyphs">Precision</text>
<clipPath id="c2"><rect x="505.0" y="264.3" width="140.39999999999998" height="155.7"/></clipPath>
<g clip-path="url(#c2)" fill="none" stroke="#aaaaaa" stroke-width="0.8" stroke-dasharray="1.9 1.6">
<path d="M510.73,176.97 L511.65,301.27 L512.57,384.25 L513.49,443.59 L514.42,488.12 L515.34,522.78 L516.26,550.52 L517.18,573.22 L518.11,592.15 L519.03,608.16 L519.95,621.89 L520.87,633.80 L521.80,644.21 L522.72,653.41 L523.64,661.58 L524.56,668.89 L525.48,675.47 L526.41,681.43 L527.33,686.84 L528.25,691.79 L529.17,696.32 L530.10,700.49 L531.02,704.34 L531.94,707.91 L532.86,711.22 L533.79,714.30 L534.71,717.17 L535.63,719.87 L536.55,722.39 L537.48,724.76 L538.40,726.99 L539.32,729.09 L540.24,731.08 L541.17,732.96 L542.09,734.74 L543.01,736.43 L543.93,738.03 L544.86,739.56 L545.78,741.01 L546.70,742.40 L547.62,743.72 L548.55,744.99 L549.47,746.20 L550.39,747.36 L551.31,748.47 L552.24,749.53 L553.16,750.55 L554.08,751.53 L555.00,752.48 L555.92,753.39 L556.85,754.26 L557.77,755.11 L558.69,755.92 L559.61,756.70 L560.54,757.46 L561.46,758.19 L562.38,758.90 L563.30,759.58 L564.23,760.25 L565.15,760.89 L566.07,761.51 L566.99,762.11 L567.92,762.69 L568.84,763.26 L569.76,763.81 L570.68,764.34 L571.61,764.86 L572.53,765.37 L573.45,765.86 L574.37,766.33 L575.30,766.80 L576.22,767.25 L577.14,767.69 L578.06,768.12 L578.99,768.53 L579.91,768.94 L580.83,769.34 L581.75,769.72 L582.68,770.10 L583.60,770.47 L584.52,770.83 L585.44,771.18 L586.36,771.52 L587.29,771.85 L588.21,772.18 L589.13,772.50 L590.05,772.81 L590.98,773.12 L591.90,773.42 L592.82,773.71 L593.74,774.00 L594.67,774.28 L595.59,774.55 L596.51,774.82 L597.43,775.09 L598.36,775.34 L599.28,775.60 L600.20,775.85 L601.12,776.09 L602.05,776.33 L602.97,776.56 L603.89,776.79 L604.81,777.01 L605.74,777.24 L606.66,777.45 L607.58,777.67 L608.50,777.87 L609.43,778.08 L610.35,778.28 L611.27,778.48 L612.19,778.67 L613.12,778.86 L614.04,779.05 L614.96,779.24 L615.88,779.42 L616.80,779.60 L617.73,779.77 L618.65,779.94 L619.57,780.11 L620.49,780.28 L621.42,780.45 L622.34,780.61 L623.26,780.77 L624.18,780.92 L625.11,781.08 L626.03,781.23 L626.95,781.38 L627.87,781.52 L628.80,781.67 L629.72,781.81 L630.64,781.95 L631.56,782.09 L632.49,782.23 L633.41,782.36 L634.33,782.49 L635.25,782.63 L636.18,782.75 L637.10,782.88 L638.02,783.01 L638.94,783.13 L639.87,783.25 L640.79,783.37 L641.71,783.49 L642.63,783.61 L643.56,783.72 L644.48,783.83 L645.40,783.95"/>
<path d="M522.12,178.85 L522.99,244.29 L523.86,296.68 L524.73,339.55 L525.59,375.29 L526.46,405.54 L527.33,431.47 L528.20,453.95 L529.07,473.63 L529.93,490.99 L530.80,506.42 L531.67,520.24 L532.54,532.67 L533.41,543.92 L534.28,554.14 L535.14,563.48 L536.01,572.04 L536.88,579.92 L537.75,587.19 L538.62,593.92 L539.48,600.17 L540.35,606.00 L541.22,611.43 L542.09,616.51 L542.96,621.28 L543.83,625.75 L544.69,629.97 L545.56,633.94 L546.43,637.69 L547.30,641.24 L548.17,644.61 L549.03,647.80 L549.90,650.83 L550.77,653.71 L551.64,656.46 L552.51,659.08 L553.38,661.58 L554.24,663.96 L555.11,666.25 L555.98,668.44 L556.85,670.53 L557.72,672.54 L558.58,674.47 L559.45,676.33 L560.32,678.11 L561.19,679.83 L562.06,681.48 L562.92,683.07 L563.79,684.61 L564.66,686.09 L565.53,687.52 L566.40,688.90 L567.27,690.24 L568.13,691.53 L569.00,692.78 L569.87,693.99 L570.74,695.17 L571.61,696.30 L572.47,697.41 L573.34,698.48 L574.21,699.51 L575.08,700.52 L575.95,701.50 L576.82,702.45 L577.68,703.38 L578.55,704.28 L579.42,705.16 L580.29,706.01 L581.16,706.84 L582.02,707.65 L582.89,708.43 L583.76,709.20 L584.63,709.95 L585.50,710.68 L586.37,711.39 L587.23,712.09 L588.10,712.77 L588.97,713.43 L589.84,714.08 L590.71,714.71 L591.57,715.33 L592.44,715.93 L593.31,716.52 L594.18,717.10 L595.05,717.66 L595.91,718.22 L596.78,718.76 L597.65,719.29 L598.52,719.81 L599.39,720.31 L600.26,720.81 L601.12,721.30 L601.99,721.78 L602.86,722.25 L603.73,722.71 L604.60,723.16 L605.46,723.60 L606.33,724.03 L607.20,724.46 L608.07,724.87 L608.94,725.28 L609.81,725.68 L610.67,726.08 L611.54,726.47 L612.41,726.85 L613.28,727.22 L614.15,727.59 L615.01,727.95 L615.88,728.30 L616.75,728.65 L617.62,729.00 L618.49,729.33 L619.36,729.66 L620.22,729.99 L621.09,730.31 L621.96,730.63 L622.83,730.94 L623.70,731.24 L624.56,731.54 L625.43,731.84 L626.30,732.13 L627.17,732.41 L628.04,732.70 L628.90,732.97 L629.77,733.25 L630.64,733.52 L631.51,733.78 L632.38,734.04 L633.25,734.30 L634.11,734.56 L634.98,734.81 L635.85,735.05 L636.72,735.30 L637.59,735.54 L638.45,735.77 L639.32,736.01 L640.19,736.24 L641.06,736.46 L641.93,736.69 L642.80,736.91 L643.66,737.12 L644.53,737.34 L645.40,737.55"/>
<path d="M534.71,174.89 L535.52,212.35 L536.34,245.13 L537.15,274.06 L537.97,299.78 L538.78,322.80 L539.59,343.52 L540.41,362.26 L541.22,379.31 L542.04,394.87 L542.85,409.13 L543.66,422.26 L544.48,434.38 L545.29,445.60 L546.11,456.02 L546.92,465.72 L547.73,474.77 L548.55,483.24 L549.36,491.19 L550.17,498.65 L550.99,505.67 L551.80,512.29 L552.62,518.55 L553.43,524.46 L554.24,530.07 L555.06,535.38 L555.87,540.43 L556.69,545.24 L557.50,549.82 L558.31,554.18 L559.13,558.35 L559.94,562.33 L560.76,566.13 L561.57,569.78 L562.38,573.27 L563.20,576.62 L564.01,579.84 L564.82,582.93 L565.64,585.91 L566.45,588.77 L567.27,591.52 L568.08,594.17 L568.89,596.73 L569.71,599.20 L570.52,601.59 L571.34,603.89 L572.15,606.12 L572.96,608.27 L573.78,610.36 L574.59,612.37 L575.41,614.33 L576.22,616.23 L577.03,618.06 L577.85,619.85 L578.66,621.58 L579.47,623.26 L580.29,624.89 L581.10,626.47 L581.92,628.02 L582.73,629.52 L583.54,630.98 L584.36,632.40 L585.17,633.78 L585.99,635.13 L586.80,636.44 L587.61,637.72 L588.43,638.97 L589.24,640.18 L590.06,641.37 L590.87,642.53 L591.68,643.66 L592.50,644.77 L593.31,645.84 L594.12,646.90 L594.94,647.93 L595.75,648.93 L596.57,649.92 L597.38,650.88 L598.19,651.82 L599.01,652.75 L599.82,653.65 L600.64,654.53 L601.45,655.39 L602.26,656.24 L603.08,657.07 L603.89,657.88 L604.71,658.68 L605.52,659.46 L606.33,660.23 L607.15,660.98 L607.96,661.71 L608.77,662.44 L609.59,663.14 L610.40,663.84 L611.22,664.52 L612.03,665.19 L612.84,665.85 L613.66,666.49 L614.47,667.13 L615.29,667.75 L616.10,668.36 L616.91,668.97 L617.73,669.56 L618.54,670.14 L619.36,670.71 L620.17,671.27 L620.98,671.82 L621.80,672.37 L622.61,672.90 L623.42,673.43 L624.24,673.94 L625.05,674.45 L625.87,674.95 L626.68,675.45 L627.49,675.93 L628.31,676.41 L629.12,676.88 L629.94,677.34 L630.75,677.80 L631.56,678.25 L632.38,678.69 L633.19,679.12 L634.01,679.55 L634.82,679.98 L635.63,680.39 L636.45,680.81 L637.26,681.21 L638.07,681.61 L638.89,682.00 L639.70,682.39 L640.52,682.78 L641.33,683.15 L642.14,683.53 L642.96,683.89 L643.77,684.26 L644.59,684.61 L645.40,684.97"/>
<path d="M548.17,153.31 L548.93,177.32 L549.69,199.33 L550.45,219.58 L551.21,238.27 L551.97,255.58 L552.73,271.65 L553.49,286.62 L554.25,300.59 L555.00,313.66 L555.76,325.91 L556.52,337.42 L557.28,348.25 L558.04,358.47 L558.80,368.12 L559.56,377.24 L560.32,385.89 L561.08,394.09 L561.84,401.89 L562.60,409.30 L563.36,416.36 L564.12,423.09 L564.88,429.52 L565.64,435.66 L566.40,441.54 L567.16,447.16 L567.92,452.55 L568.68,457.72 L569.44,462.68 L570.20,467.45 L570.96,472.04 L571.72,476.45 L572.48,480.70 L573.24,484.79 L574.00,488.74 L574.75,492.55 L575.51,496.23 L576.27,499.79 L577.03,503.22 L577.79,506.55 L578.55,509.76 L579.31,512.87 L580.07,515.89 L580.83,518.82 L581.59,521.65 L582.35,524.40 L583.11,527.07 L583.87,529.66 L584.63,532.18 L585.39,534.63 L586.15,537.01 L586.91,539.32 L587.67,541.57 L588.43,543.77 L589.19,545.90 L589.95,547.98 L590.71,550.00 L591.47,551.98 L592.23,553.90 L592.99,555.78 L593.75,557.61 L594.51,559.40 L595.26,561.14 L596.02,562.85 L596.78,564.51 L597.54,566.14 L598.30,567.73 L599.06,569.28 L599.82,570.80 L600.58,572.28 L601.34,573.74 L602.10,575.16 L602.86,576.55 L603.62,577.91 L604.38,579.25 L605.14,580.55 L605.90,581.83 L606.66,583.09 L607.42,584.32 L608.18,585.52 L608.94,586.70 L609.70,587.86 L610.46,589.00 L611.22,590.11 L611.98,591.20 L612.74,592.27 L613.50,593.33 L614.26,594.36 L615.02,595.38 L615.77,596.37 L616.53,597.35 L617.29,598.31 L618.05,599.26 L618.81,600.18 L619.57,601.10 L620.33,601.99 L621.09,602.87 L621.85,603.74 L622.61,604.59 L623.37,605.43 L624.13,606.26 L624.89,607.07 L625.65,607.86 L626.41,608.65 L627.17,609.42 L627.93,610.18 L628.69,610.93 L629.45,611.67 L630.21,612.39 L630.97,613.11 L631.73,613.81 L632.49,614.50 L633.25,615.19 L634.01,615.86 L634.77,616.52 L635.52,617.17 L636.28,617.82 L637.04,618.45 L637.80,619.08 L638.56,619.69 L639.32,620.30 L640.08,620.90 L640.84,621.49 L641.60,622.07 L642.36,622.65 L643.12,623.22 L643.88,623.78 L644.64,624.33 L645.40,624.87"/>
<path d="M563.58,150.08 L564.28,165.05 L564.99,179.19 L565.69,192.57 L566.40,205.24 L567.11,217.27 L567.81,228.69 L568.52,239.56 L569.22,249.91 L569.93,259.77 L570.63,269.19 L571.34,278.19 L572.04,286.80 L572.75,295.05 L573.45,302.95 L574.16,310.53 L574.86,317.80 L575.57,324.79 L576.27,331.51 L576.98,337.98 L577.69,344.21 L578.39,350.21 L579.10,356.00 L579.80,361.58 L580.51,366.98 L581.21,372.18 L581.92,377.22 L582.62,382.09 L583.33,386.80 L584.03,391.37 L584.74,395.79 L585.44,400.08 L586.15,404.23 L586.86,408.26 L587.56,412.18 L588.27,415.98 L588.97,419.67 L589.68,423.26 L590.38,426.74 L591.09,430.14 L591.79,433.44 L592.50,436.65 L593.20,439.78 L593.91,442.82 L594.61,445.79 L595.32,448.69 L596.02,451.51 L596.73,454.26 L597.44,456.94 L598.14,459.56 L598.85,462.12 L599.55,464.62 L600.26,467.06 L600.96,469.44 L601.67,471.77 L602.37,474.05 L603.08,476.27 L603.78,478.45 L604.49,480.58 L605.19,482.66 L605.90,484.70 L606.61,486.70 L607.31,488.65 L608.02,490.57 L608.72,492.45 L609.43,494.28 L610.13,496.08 L610.84,497.85 L611.54,499.58 L612.25,501.28 L612.95,502.94 L613.66,504.58 L614.36,506.18 L615.07,507.75 L615.77,509.29 L616.48,510.81 L617.19,512.30 L617.89,513.76 L618.60,515.19 L619.30,516.60 L620.01,517.98 L620.71,519.35 L621.42,520.68 L622.12,522.00 L622.83,523.29 L623.53,524.56 L624.24,525.81 L624.94,527.03 L625.65,528.24 L626.36,529.43 L627.06,530.60 L627.77,531.75 L628.47,532.88 L629.18,534.00 L629.88,535.10 L630.59,536.18 L631.29,537.24 L632.00,538.29 L632.70,539.32 L633.41,540.33 L634.11,541.33 L634.82,542.32 L635.52,543.29 L636.23,544.25 L636.94,545.19 L637.64,546.12 L638.35,547.04 L639.05,547.94 L639.76,548.83 L640.46,549.71 L641.17,550.58 L641.87,551.43 L642.58,552.27 L643.28,553.10 L643.99,553.92 L644.69,554.73 L645.40,555.53"/>
<path d="M580.29,138.27 L580.94,148.16 L581.59,157.67 L582.24,166.82 L582.90,175.63 L583.55,184.12 L584.20,192.31 L584.85,200.21 L585.50,207.84 L586.15,215.21 L586.80,222.34 L587.45,229.23 L588.10,235.90 L588.76,242.36 L589.41,248.61 L590.06,254.68 L590.71,260.56 L591.36,266.26 L592.01,271.80 L592.66,277.17 L593.31,282.40 L593.96,287.47 L594.61,292.41 L595.27,297.21 L595.92,301.88 L596.57,306.42 L597.22,310.85 L597.87,315.16 L598.52,319.36 L599.17,323.45 L599.82,327.45 L600.47,331.34 L601.13,335.14 L601.78,338.84 L602.43,342.46 L603.08,346.00 L603.73,349.45 L604.38,352.82 L605.03,356.12 L605.68,359.34 L606.33,362.49 L606.99,365.57 L607.64,368.58 L608.29,371.53 L608.94,374.42 L609.59,377.24 L610.24,380.01 L610.89,382.72 L611.54,385.37 L612.19,387.97 L612.85,390.52 L613.50,393.02 L614.15,395.47 L614.80,397.87 L615.45,400.23 L616.10,402.54 L616.75,404.80 L617.40,407.03 L618.05,409.21 L618.71,411.35 L619.36,413.46 L620.01,415.53 L620.66,417.56 L621.31,419.55 L621.96,421.51 L622.61,423.43 L623.26,425.32 L623.91,427.18 L624.57,429.01 L625.22,430.81 L625.87,432.58 L626.52,434.31 L627.17,436.02 L627.82,437.70 L628.47,439.36 L629.12,440.99 L629.77,442.59 L630.42,444.17 L631.08,445.72 L631.73,447.25 L632.38,448.75 L633.03,450.23 L633.68,451.69 L634.33,453.13 L634.98,454.55 L635.63,455.94 L636.28,457.31 L636.94,458.67 L637.59,460.00 L638.24,461.32 L638.89,462.62 L639.54,463.89 L640.19,465.16 L640.84,466.40 L641.49,467.62 L642.14,468.83 L642.80,470.02 L643.45,471.20 L644.10,472.36 L644.75,473.50 L645.40,474.63"/>
<path d="M600.04,140.51 L600.64,146.79 L601.23,152.90 L601.83,158.85 L602.43,164.65 L603.03,170.30 L603.62,175.81 L604.22,181.19 L604.82,186.43 L605.41,191.55 L606.01,196.55 L606.61,201.43 L607.20,206.19 L607.80,210.85 L608.40,215.40 L608.99,219.84 L609.59,224.19 L610.19,228.45 L610.78,232.61 L611.38,236.68 L611.98,240.66 L612.57,244.56 L613.17,248.38 L613.77,252.12 L614.37,255.79 L614.96,259.38 L615.56,262.90 L616.16,266.35 L616.75,269.73 L617.35,273.04 L617.95,276.30 L618.54,279.49 L619.14,282.62 L619.74,285.69 L620.33,288.70 L620.93,291.66 L621.53,294.57 L622.12,297.42 L622.72,300.22 L623.32,302.98 L623.91,305.68 L624.51,308.34 L625.11,310.95 L625.70,313.52 L626.30,316.04 L626.90,318.52 L627.50,320.96 L628.09,323.36 L628.69,325.72 L629.29,328.04 L629.88,330.33 L630.48,332.57 L631.08,334.78 L631.67,336.96 L632.27,339.11 L632.87,341.22 L633.46,343.29 L634.06,345.34 L634.66,347.35 L635.25,349.34 L635.85,351.29 L636.45,353.22 L637.04,355.12 L637.64,356.99 L638.24,358.83 L638.83,360.65 L639.43,362.44 L640.03,364.20 L640.63,365.94 L641.22,367.66 L641.82,369.35 L642.42,371.02 L643.01,372.66 L643.61,374.29 L644.21,375.89 L644.80,377.47 L645.40,379.03"/>
</g>
<circle cx="645.20" cy="398.10" r="4.46" fill="#ef6758"/>
<polygon points="641.60,333.45 646.07,336.70 644.36,341.95 638.84,341.95 637.13,336.70" fill="#bec4f0"/>
<polygon points="641.15,281.45 648.85,281.45 648.85,289.15 641.15,289.15" fill="#b3b3b3"/>
<polygon points="512.00,265.20 517.40,270.60 512.00,276.00 506.60,270.60" fill="#629bc4"/>
<polygon points="624.80,308.40 633.80,303.90 633.80,312.90" fill="#f6df55"/>
<polygon points="641.55,290.80 643.80,293.05 646.05,290.80 648.30,293.05 646.05,295.30 648.30,297.55 646.05,299.80 643.80,297.55 641.55,299.80 639.30,297.55 641.55,295.30 639.30,293.05" fill="#76c4b4"/>
<polygon points="644.00,306.50 647.00,306.50 647.00,309.50 650.00,309.50 650.00,312.50 647.00,312.50 647.00,315.50 644.00,315.50 644.00,312.50 641.00,312.50 641.00,309.50 644.00,309.50" fill="#a0ce50"/>
<polygon points="643.40,272.90 647.10,280.30 639.70,280.30" fill="#9d9cee" stroke="#404040" stroke-width="1.25" stroke-linejoin="round"/>
<polygon points="642.70,313.50 647.20,304.50 638.20,304.50" fill="#f4a147"/>
<line x1="505.00" y1="264.30" x2="645.95" y2="264.30" stroke="#0d0d0d" stroke-width="1.25"/>
<line x1="645.40" y1="263.75" x2="645.40" y2="407.00" stroke="#0d0d0d" stroke-width="1.25"/>
<line x1="564.00" y1="264.30" x2="564.00" y2="260.30" stroke="#0d0d0d" stroke-width="1.0"/>
<text x="564.00" y="256.10" font-size="12" fill="#4f4f4f" text-anchor="middle">0.5</text>
<line x1="645.40" y1="264.30" x2="645.40" y2="260.30" stroke="#0d0d0d" stroke-width="1.0"/>
<text x="645.40" y="256.10" font-size="12" fill="#4f4f4f" text-anchor="middle">1.0</text>
<line x1="645.40" y1="264.30" x2="649.40" y2="264.30" stroke="#0d0d0d" stroke-width="1.0"/>
<text x="652.20" y="269.00" font-size="12" fill="#4f4f4f">1.0</text>
<line x1="645.40" y1="327.40" x2="649.40" y2="327.40" stroke="#0d0d0d" stroke-width="1.0"/>
<text x="652.20" y="332.10" font-size="12" fill="#4f4f4f">0.9</text>
<line x1="645.40" y1="390.50" x2="649.40" y2="390.50" stroke="#0d0d0d" stroke-width="1.0"/>
<text x="652.20" y="395.20" font-size="12" fill="#4f4f4f">0.8</text>
<text x="575.20" y="241.20" font-size="11.8" fill="#4f4f4f" text-anchor="middle" textLength="47.2" lengthAdjust="spacingAndGlyphs">Precision</text>
<text x="683.60" y="334.60" font-size="11.6" fill="#4f4f4f" text-anchor="middle" textLength="52.5" lengthAdjust="spacingAndGlyphs" transform="rotate(-90 683.6 334.6)">Sensitivity</text></svg></body></html>
